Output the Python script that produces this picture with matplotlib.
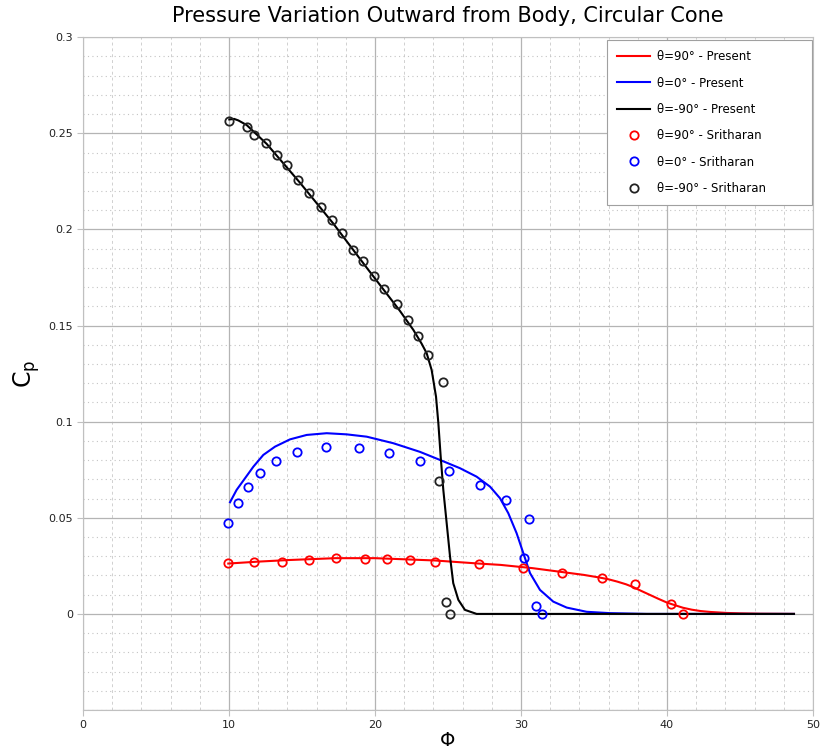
import matplotlib.pyplot as plt
import numpy as np
from matplotlib.ticker import MultipleLocator, FixedLocator

# present solution curves (phi, Cp)
phi_90 = [9.95, 12.0, 14.0, 17.3, 20.0, 24.1, 27.1, 28.6, 30.8, 33.1, 34.3, 35.4, 36.0,
          36.6, 37.2, 37.7, 38.2, 38.8, 39.4, 40.0, 40.6, 41.1, 41.7, 42.3, 43.0, 44.1,
          45.0, 46.4, 48.7]
cp_90 = [0.0262, 0.0272, 0.0280, 0.0290, 0.0290, 0.0278, 0.0262, 0.0255, 0.0238, 0.0215,
         0.0203, 0.0189, 0.0180, 0.0168, 0.0154, 0.0139, 0.0121, 0.0100, 0.0079, 0.0059,
         0.0044, 0.0032, 0.0022, 0.0015, 0.0010, 0.0005, 0.0003, 0.0001, 0.0]

phi_0 = [10.07, 10.52, 11.1, 11.67, 12.35, 13.15, 14.18, 15.32, 16.69, 18.06, 19.43,
         21.25, 23.08, 24.45, 25.82, 26.96, 27.88, 28.56, 29.13, 29.7, 30.16, 30.62,
         31.3, 32.21, 33.13, 34.5, 36.1, 38.6, 48.7]
cp_0 = [0.0581, 0.0645, 0.0706, 0.0766, 0.0827, 0.0870, 0.0908, 0.0931, 0.0940, 0.0934,
        0.0922, 0.0888, 0.0843, 0.0801, 0.0758, 0.0714, 0.0662, 0.0602, 0.0524, 0.0420,
        0.0316, 0.0212, 0.0125, 0.0064, 0.0033, 0.0011, 0.0004, 0.0, 0.0]

phi_m90 = [10.02, 10.35, 10.64, 11.21, 12.58, 14.86, 17.15, 19.43, 21.71, 22.63, 23.2,
           23.54, 23.88, 24.18, 24.34, 24.5, 24.68, 24.91, 25.14, 25.36, 25.71, 26.16,
           26.96, 48.7]
cp_m90 = [0.2572, 0.2575, 0.2567, 0.2543, 0.2445, 0.2243, 0.2030, 0.1801, 0.1576, 0.1477,
          0.1405, 0.1356, 0.1269, 0.1130, 0.0992, 0.0818, 0.0645, 0.0472, 0.0298, 0.0160,
          0.0073, 0.0021, 0.0, 0.0]

# Sritharan data points
s_phi_90 = [9.95, 11.73, 13.61, 15.5, 17.3, 19.32, 20.82, 22.42, 24.13, 27.14, 30.13,
            32.83, 35.52, 37.81, 40.25, 41.12]
s_cp_90 = [0.0267, 0.0272, 0.0272, 0.0279, 0.0290, 0.0285, 0.0285, 0.0279, 0.0272, 0.0259,
           0.0241, 0.0215, 0.0186, 0.0155, 0.0051, 0.0002]

s_phi_0 = [9.95, 10.64, 11.32, 12.12, 13.22, 14.63, 16.62, 18.93, 20.93, 23.1, 25.05,
           27.19, 28.99, 30.52, 30.23, 31.03, 31.42]
s_cp_0 = [0.0475, 0.0577, 0.0662, 0.0733, 0.0794, 0.0844, 0.0870, 0.0865, 0.0839, 0.0794,
          0.0744, 0.0669, 0.0591, 0.0496, 0.0291, 0.0040, 0.0]

s_phi_m90 = [10.02, 11.21, 11.71, 12.53, 13.27, 13.95, 14.71, 15.5, 16.3, 17.08, 17.76,
             18.51, 19.2, 19.93, 20.62, 21.49, 22.23, 22.95, 23.63, 24.64, 24.4, 24.84, 25.14]
s_cp_m90 = [0.2563, 0.2531, 0.2493, 0.2452, 0.2389, 0.2337, 0.2258, 0.2187, 0.2116, 0.2048,
            0.1982, 0.1894, 0.1835, 0.1757, 0.1691, 0.1613, 0.1528, 0.1447, 0.1346, 0.1206,
            0.0691, 0.0064, 0.0]

fig = plt.figure(figsize=(8.22, 7.56), dpi=100)
ax = fig.add_axes([0.101, 0.0608, 0.888, 0.890])

ax.plot(phi_90, cp_90, color='red', lw=1.5, label='θ=90° - Present')
ax.plot(phi_0, cp_0, color='blue', lw=1.5, label='θ=0° - Present')
ax.plot(phi_m90, cp_m90, color='black', lw=1.5, label='θ=-90° - Present')

mk = dict(ls='none', marker='o', ms=6, mfc='none', mew=1.3)
ax.plot(s_phi_90, s_cp_90, mec='red', label='θ=90° - Sritharan', **mk)
ax.plot(s_phi_0, s_cp_0, mec='blue', label='θ=0° - Sritharan', **mk)
ax.plot(s_phi_m90, s_cp_m90, mec='#222222', label='θ=-90° - Sritharan', **mk)

ax.set_xlim(0, 50)
ax.set_ylim(-0.05, 0.3)
ax.xaxis.set_major_locator(MultipleLocator(10))
ax.xaxis.set_minor_locator(MultipleLocator(2))
ax.yaxis.set_major_locator(FixedLocator([0, 0.05, 0.1, 0.15, 0.2, 0.25, 0.3]))
ax.yaxis.set_minor_locator(MultipleLocator(0.01))
ax.set_yticklabels(['0', '0.05', '0.1', '0.15', '0.2', '0.25', '0.3'])

ax.grid(which='major', color='#b4b4b4', lw=0.9, ls='-')
ax.xaxis.grid(which='minor', color='#d0d0d0', lw=0.7, ls=(0, (3, 3)))
ax.yaxis.grid(which='minor', color='#c4c4c4', lw=0.8, ls=(0, (1, 3)))
ax.axhline(-0.05, color='#b4b4b4', lw=0.9)
ax.set_axisbelow(True)

for s in ax.spines.values():
    s.set_color('#c0c0c0')
ax.tick_params(which='major', length=4, color='#c0c0c0', labelsize=8, pad=3,
               labelcolor='#222222')
ax.tick_params(which='minor', length=0)

ax.set_title('Pressure Variation Outward from Body, Circular Cone', fontsize=15, pad=11)
ax.set_xlabel('Φ', fontsize=14, labelpad=1)
ax.set_ylabel('C$_\\mathregular{p}$', fontsize=17, labelpad=5)

# legend box pinned to the upper right corner, wider than its text
leg = ax.legend(loc='upper left', bbox_to_anchor=(0.718, 0.3, 0.2806, 0.6955),
                mode='expand', fontsize=8.5, fancybox=False, edgecolor='#a0a0a0',
                framealpha=1, borderpad=0.85, labelspacing=1.13, handlelength=2.8,
                handletextpad=0.6, borderaxespad=0)
leg.get_frame().set_linewidth(0.8)

fig.savefig('out.png', dpi=100)
